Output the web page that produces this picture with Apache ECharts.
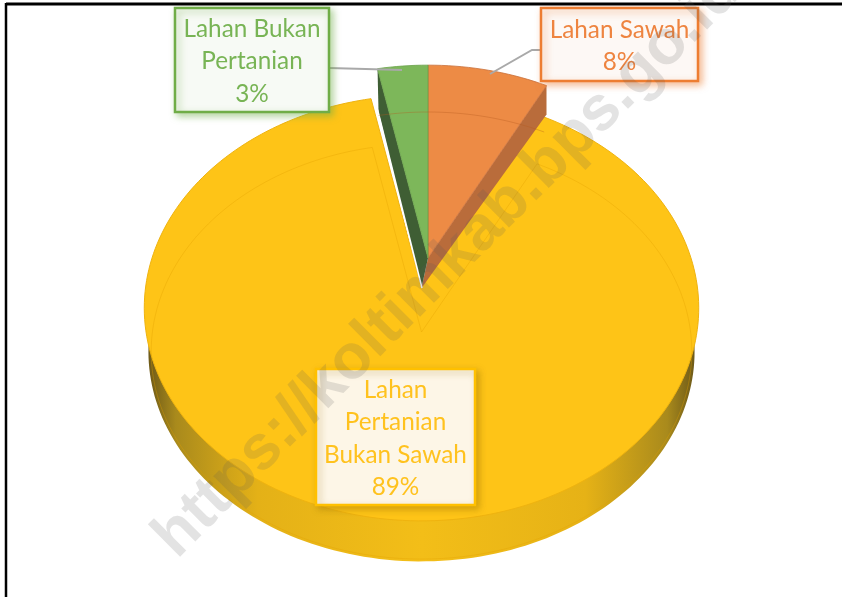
<!DOCTYPE html>
<html><head><meta charset="utf-8">
<style>html,body{margin:0;padding:0;background:#fff}#c{width:842px;height:597px}</style>
<script src="https://cdn.jsdelivr.net/npm/echarts@6/dist/echarts.min.js"></script>
</head><body><div id="c"></div>
<script>
// Data (order: clockwise from 12 o'clock)
const categories = ['Lahan Sawah', 'Lahan Pertanian Bukan Sawah', 'Lahan Bukan Pertanian'];
const values = [7.7, 89.1, 3.2];
const labelLines = [['Lahan Sawah'], ['Lahan', 'Pertanian', 'Bukan Sawah'], ['Lahan Bukan', 'Pertanian']];
const watermark = 'https://koltimkab.bps.go.id';

// Styles and layout
const topColors = ['#ED8B45', '#FEC417', '#7DB75A'];
const edgeColors = ['#C9703A', '#EFB30F', '#6AA24A'];
const textColors = ['#EE8440', '#FFC21E', '#78B455'];
const borderColors = ['#ED7D31', '#FFC000', '#70AD47'];
const boxFills = ['#FDF8F5', '#FDF6E7', '#F7FAF5'];
const sideColors = ['#B96C3B', null, '#3F5E34'];
const boxes = [[541, 8, 157, 73], [316, 369, 159, 136], [175, 8, 154, 104]];
const apexes = [[428, 258], [421.5, 288], [428, 258]];
const rimDepth = [[0, 29], null, [1, 43]];
const leaders = [[[490, 74], [532, 50], [541, 50]], null, [[329, 68], [402, 70]]];
const K = 276, S = 211, P = 0.094;

function rimPoint(apex, deg, scale, dy) {
  const t = deg * Math.PI / 180, u = Math.sin(t), v = Math.cos(t), d = 1 + P * v;
  return [apex[0] + scale * K * u / d, apex[1] + (dy || 0) - scale * S * v / d];
}
function arc(apex, a0, a1, scale, dy) {
  const n = Math.max(6, Math.round((a1 - a0) / 1.5)), pts = [];
  for (let i = 0; i <= n; i++) pts.push(rimPoint(apex, a0 + (a1 - a0) * i / n, scale, dy));
  return pts;
}
const total = values.reduce((a, b) => a + b, 0);
const starts = [];
values.reduce((acc, v, i) => { starts[i] = acc; return acc + v; }, 0);

function renderItem(params, api) {
  const i = params.dataIndex;
  const a0 = api.value(1) / total * 360, a1 = a0 + api.value(0) / total * 360;
  const apex = apexes[i], children = [];
  const rim = arc(apex, a0, a1, 1, 0);
  if (i === 1) {
    // body of the big slice, then its top face, then the faint far edge seen through it
    children.push({ type: 'polygon', z2: 1, shape: { points: [[apex[0], apex[1] + 44]].concat(arc(apex, a0, a1, 0.985, 44)) },
      style: { fill: new echarts.graphic.LinearGradient(0, 0, 1, 0, [
        { offset: 0, color: '#6E5A18' }, { offset: 0.05, color: '#A98A1C' }, { offset: 0.2, color: '#E4B117' },
        { offset: 0.5, color: '#F3BE18' }, { offset: 0.8, color: '#E6B216' }, { offset: 0.95, color: '#A98A1C' }, { offset: 1, color: '#6E5A18' }]) } });
    children.push({ type: 'polygon', z2: 2, shape: { points: [apex].concat(rim) },
      style: { fill: topColors[i], stroke: edgeColors[i], lineWidth: 1 } });
    children.push({ type: 'polygon', z2: 3, shape: { points: [[apex[0], apex[1] + 44]].concat(arc(apex, a0, a1, 0.975, 44)) },
      style: { fill: 'none', stroke: 'rgba(225,160,0,0.35)', lineWidth: 1 } });
  } else {
    const corner = i === 0 ? rim[rim.length - 1] : rim[0];
    const low = [corner[0] + rimDepth[i][0], corner[1] + rimDepth[i][1]];
    children.push({ type: 'polygon', z2: 5, shape: { points: [apex, corner, low, apexes[1]] },
      style: { fill: sideColors[i] } });
    if (i === 2) children.push({ type: 'line', z2: 5, shape: { x1: low[0] - 1, y1: low[1] - 2, x2: apexes[1][0] + 0.5, y2: apexes[1][1] },
      style: { stroke: '#fff', lineWidth: 1.6 } });
    children.push({ type: 'polygon', z2: 6, shape: { points: [apex].concat(rim) },
      style: { fill: topColors[i], stroke: edgeColors[i], lineWidth: 0.8 } });
    children.push({ type: 'polyline', z2: 7, shape: { points: arc(apex, a0, a1, 0.98, 43) },
      style: { fill: 'none', stroke: 'rgba(180,90,30,0.35)', lineWidth: 1 } });
    children.push({ type: 'polyline', z2: 8, shape: { points: leaders[i] },
      style: { fill: 'none', stroke: '#A9A9A9', lineWidth: 2 } });
  }
  const b = boxes[i];
  children.push({ type: 'rect', z2: 10, shape: { x: b[0], y: b[1], width: b[2], height: b[3] },
    style: { fill: boxFills[i], stroke: borderColors[i], lineWidth: 2.5,
      shadowBlur: 7, shadowOffsetX: 3, shadowOffsetY: 3, shadowColor: i === 1 ? 'rgba(150,110,0,0.4)' : borderColors[i] + '80' } });
  const lines = labelLines[i].concat(Math.round(api.value(0)) + '%');
  children.push({ type: 'text', z2: 11, x: b[0] + b[2] / 2, y: b[1] + b[3] / 2 + 1.5,
    style: { text: lines.join('\n'), fill: textColors[i], font: '24.3px Lato', lineHeight: 32.5, align: 'center', verticalAlign: 'middle' } });
  return { type: 'group', children };
}

const chart = echarts.init(document.getElementById('c'), null, { renderer: 'canvas' });
chart.setOption({
  animation: false,
  backgroundColor: '#fff',
  series: [{
    type: 'custom', coordinateSystem: 'none', silent: true, renderItem,
    data: categories.map((name, i) => ({ name, value: [values[i], starts[i]] }))
  }],
  graphic: [
    { type: 'line', z: 50, shape: { x1: 6, y1: 4, x2: 842, y2: 4 }, style: { stroke: '#000', lineWidth: 3 } },
    { type: 'line', z: 50, shape: { x1: 6, y1: 3, x2: 6, y2: 597 }, style: { stroke: '#000', lineWidth: 2.5 } },
    { type: 'text', z: 60, x: 448, y: 264, rotation: Math.PI / 4, silent: true,
      style: { text: watermark, font: 'bold 63px "Liberation Sans"', fill: 'rgba(90,90,90,0.17)', align: 'center', verticalAlign: 'middle' } }
  ]
});
</script></body></html>
